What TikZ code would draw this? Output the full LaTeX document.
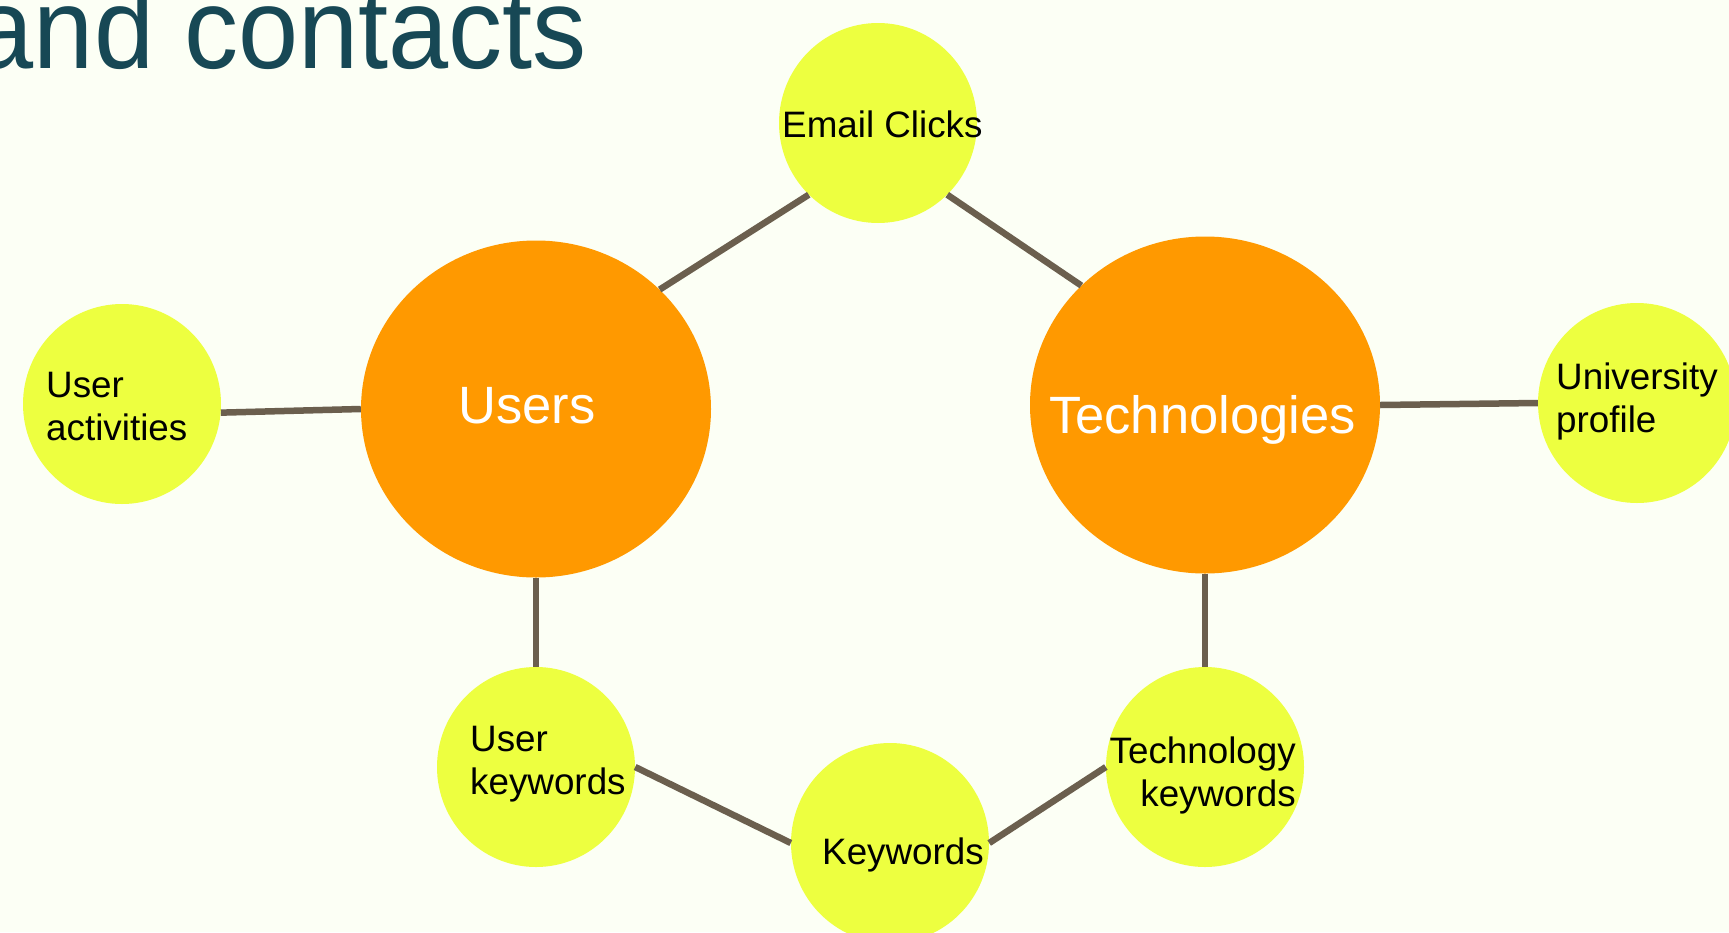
\documentclass[tikz,border=0pt]{standalone}
\usepackage{fontspec}
\setmainfont{Liberation Sans}
\newfontfamily\titlefont[FakeStretch=0.94]{Liberation Sans}
\usepackage{tikz}
\usetikzlibrary{shapes.geometric}
\definecolor{bgcream}{RGB}{252,255,245}
\definecolor{titleteal}{RGB}{23,72,85}
\definecolor{huborange}{RGB}{255,153,0}
\definecolor{leafyellow}{RGB}{237,255,64}
\definecolor{linkbrown}{RGB}{107,95,78}

\begin{document}
\begin{tikzpicture}[x=1pt,y=-1pt,
    hub/.style={ellipse,fill=huborange,minimum width=350pt,minimum height=337pt,inner sep=0pt},
    leaf/.style={ellipse,fill=leafyellow,minimum width=198pt,minimum height=200pt,inner sep=0pt},
    hubtext/.style={inner sep=0pt,text=white,font=\fontsize{52.5}{60}\selectfont},
    leaftext/.style={inner sep=0pt,font=\fontsize{36.8}{43}\selectfont},
    link/.style={draw=linkbrown,line width=6.5pt}]
    \fill[bgcream] (0,0) rectangle (1729,932);
    \useasboundingbox (0,0) rectangle (1729,932);
    \node[anchor=base east,inner sep=0pt,text=titleteal,font=\titlefont\fontsize{115}{120}\selectfont] (title) at (587,68) {and contacts};
    % hubs and leaves
    \node[hub] (users) at (536,409) {};
    \node[hub] (tech) at (1205,405) {};
    \node[leaf] (email) at (878,123) {};
    \node[leaf] (actv) at (122,404) {};
    \node[leaf] (univ) at (1637,403) {};
    \node[leaf] (ukw) at (536,767) {};
    \node[leaf] (kw) at (890,843) {};
    \node[leaf] (tkw) at (1205,767) {};
    % links
    \draw[link] (users.44) -- (email.226);
    \draw[link] (email.314) -- (tech.136);
    \draw[link] (actv.-5) -- (users.west);
    \draw[link] (tech.east) -- (univ.west);
    \draw[link] (users.south) -- (ukw.north);
    \draw[link] (tech.south) -- (tkw.north);
    \draw[link] (ukw.east) -- (kw.west);
    \draw[link] (kw.east) -- (tkw.west);
    % texts
    \node[hubtext,anchor=base west] (users-text) at (458,423) {Users};
    \node[hubtext,anchor=base west] (tech-text) at (1049,433) {Technologies};
    \node[leaftext,anchor=base west] (email-text) at (782,137) {Email Clicks};
    \node[leaftext,anchor=base west,align=left] (actv-text) at (46,440) {User\\activities};
    \node[leaftext,anchor=base west,align=left] (univ-text) at (1556,432) {University\\profile};
    \node[leaftext,anchor=base west,align=left] (ukw-text) at (470,794) {User\\keywords};
    \node[leaftext,anchor=base west] (kw-text) at (822,864) {Keywords};
    \node[leaftext,anchor=base east,align=right] (tkw-text) at (1296,806) {Technology\\keywords};
\end{tikzpicture}
\end{document}
